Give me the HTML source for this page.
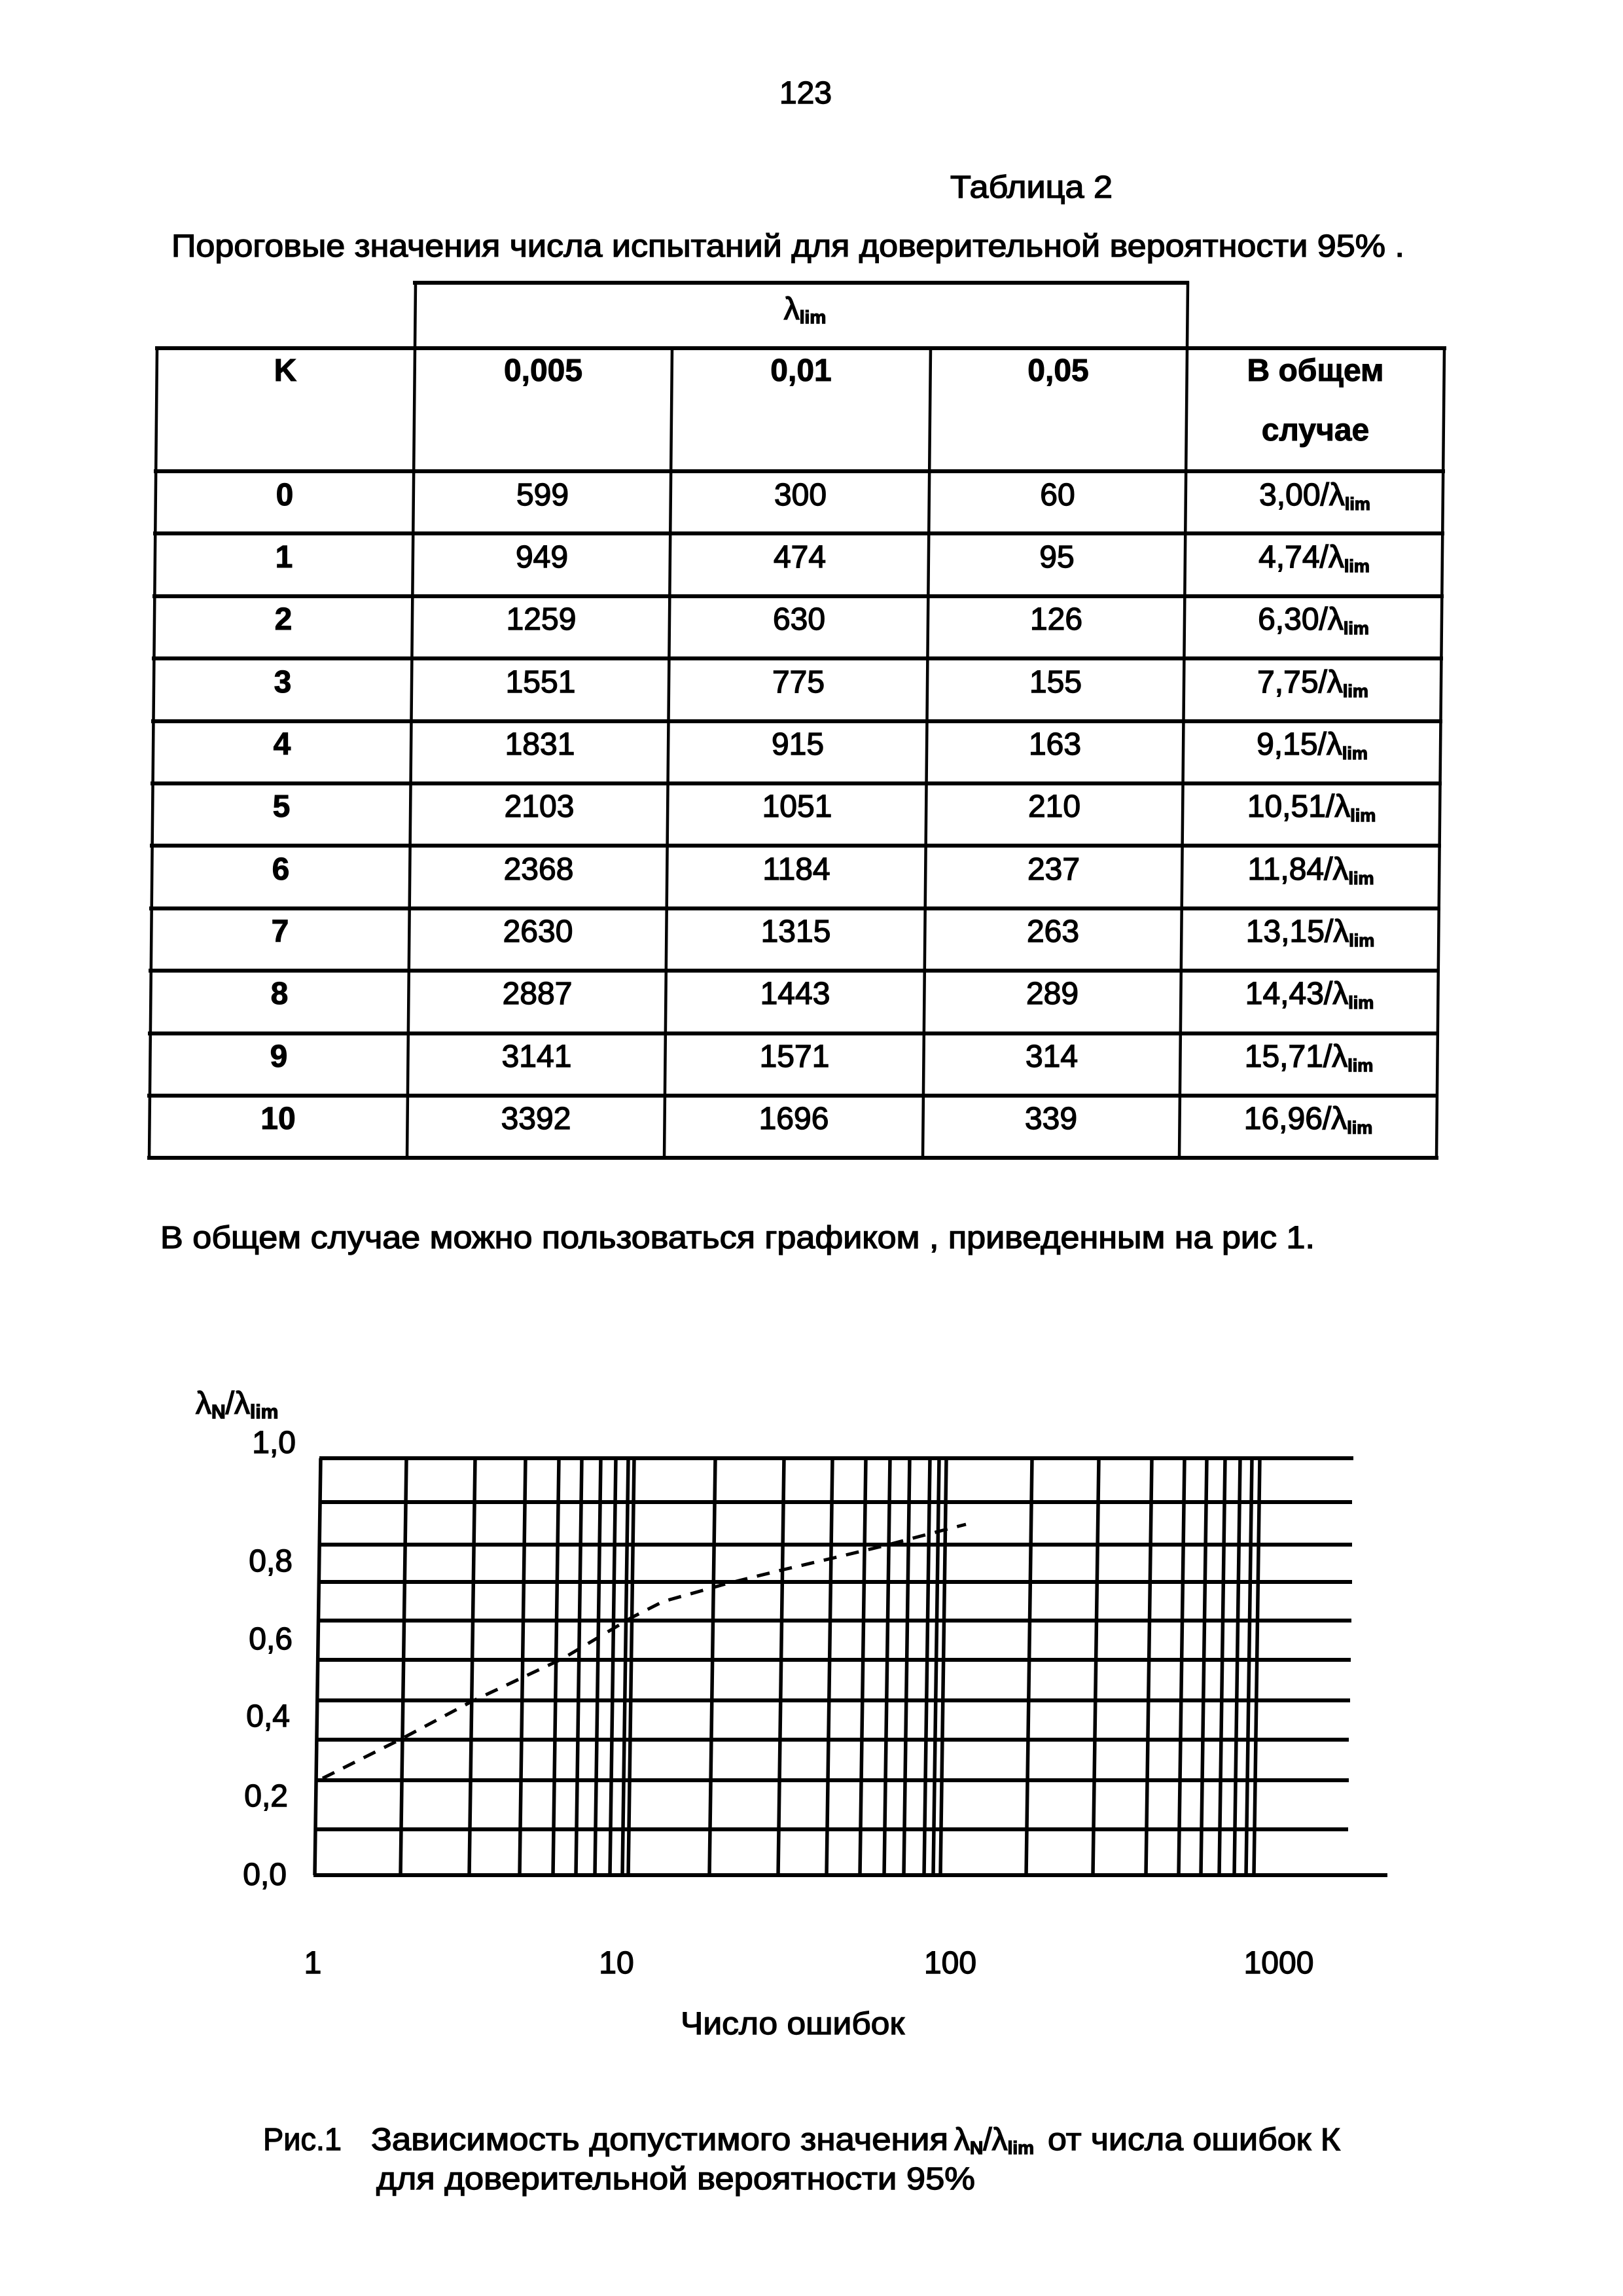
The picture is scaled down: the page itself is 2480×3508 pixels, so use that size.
<!DOCTYPE html>
<html>
<head>
<meta charset="utf-8">
<style>
html,body{margin:0;padding:0;background:#fff;}
svg{display:block;}
text{font-family:"Liberation Sans", Arial, sans-serif; fill:#000;}
.r{font-size:48px; stroke:#000; stroke-width:1.4;}
.b{font-size:48px; font-weight:bold; stroke:#000; stroke-width:1;}
.c{text-anchor:middle;}
.e{text-anchor:end;}
</style>
</head>
<body>
<svg width="2480" height="3508" viewBox="0 0 2480 3508" xmlns="http://www.w3.org/2000/svg">
<rect x="0" y="0" width="2480" height="3508" fill="#fff"/>

<!-- Page header -->
<text class="r c" x="1231" y="158">123</text>
<text class="r" x="1452" y="302" textLength="248" lengthAdjust="spacingAndGlyphs">Таблица 2</text>
<text class="r" x="262" y="392" textLength="1884" lengthAdjust="spacingAndGlyphs">Пороговые значения числа испытаний  для доверительной вероятности 95% .</text>

<!-- Table lines -->
<g stroke="#000" fill="none" stroke-linecap="square">
  <!-- lambda box -->
  <line x1="634" y1="432" x2="1814" y2="432" stroke-width="6"/>
  <line x1="635" y1="432" x2="634" y2="532" stroke-width="4.5"/>
  <line x1="1815" y1="432" x2="1814" y2="532" stroke-width="4.5"/>
  <!-- horizontals -->
  <line x1="240" y1="532" x2="2207" y2="532" stroke-width="6"/>
  <line x1="238" y1="720" x2="2205" y2="720" stroke-width="6"/>
  <line x1="237" y1="815" x2="2204" y2="815" stroke-width="6"/>
  <line x1="236" y1="911" x2="2203" y2="911" stroke-width="6"/>
  <line x1="235" y1="1006" x2="2202" y2="1006" stroke-width="6"/>
  <line x1="234" y1="1102" x2="2201" y2="1102" stroke-width="6"/>
  <line x1="233" y1="1197" x2="2200" y2="1197" stroke-width="6"/>
  <line x1="232" y1="1292" x2="2199" y2="1292" stroke-width="6"/>
  <line x1="231" y1="1388" x2="2198" y2="1388" stroke-width="6"/>
  <line x1="230" y1="1483" x2="2197" y2="1483" stroke-width="6"/>
  <line x1="229" y1="1579" x2="2196" y2="1579" stroke-width="6"/>
  <line x1="228" y1="1674" x2="2195" y2="1674" stroke-width="6"/>
  <line x1="228" y1="1769" x2="2195" y2="1769" stroke-width="6"/>
  <!-- verticals -->
  <line x1="240" y1="532" x2="228" y2="1769" stroke-width="4.5"/>
  <line x1="634" y1="532" x2="622" y2="1769" stroke-width="4.5"/>
  <line x1="1027" y1="532" x2="1015" y2="1769" stroke-width="4.5"/>
  <line x1="1422" y1="532" x2="1410" y2="1769" stroke-width="4.5"/>
  <line x1="1814" y1="532" x2="1802" y2="1769" stroke-width="4.5"/>
  <line x1="2207" y1="532" x2="2195" y2="1769" stroke-width="4.5"/>
</g>

<!-- Table header -->
<text class="r c" x="1230" y="488">λ<tspan font-size="28" font-weight="bold" dy="6">lim</tspan></text>
<text class="b c" x="436" y="582">K</text>
<text class="b c" x="830" y="582">0,005</text>
<text class="b c" x="1224" y="582">0,01</text>
<text class="b c" x="1617" y="582">0,05</text>
<text class="b c" x="2010" y="582">В общем</text>
<text class="b c" x="2010" y="673">случае</text>

<!-- Table rows -->
<g>
<text class="b c" x="435" y="772">0</text>
<text class="r c" x="829" y="772">599</text>
<text class="r c" x="1223" y="772">300</text>
<text class="r c" x="1616" y="772">60</text>
<text class="r c" x="2009" y="772">3,00/λ<tspan font-size="27" font-weight="bold" dy="7">lim</tspan></text>

<text class="b c" x="434" y="867">1</text>
<text class="r c" x="828" y="867">949</text>
<text class="r c" x="1222" y="867">474</text>
<text class="r c" x="1615" y="867">95</text>
<text class="r c" x="2008" y="867">4,74/λ<tspan font-size="27" font-weight="bold" dy="7">lim</tspan></text>

<text class="b c" x="433" y="962">2</text>
<text class="r c" x="827" y="962">1259</text>
<text class="r c" x="1221" y="962">630</text>
<text class="r c" x="1614" y="962">126</text>
<text class="r c" x="2007" y="962">6,30/λ<tspan font-size="27" font-weight="bold" dy="7">lim</tspan></text>

<text class="b c" x="432" y="1058">3</text>
<text class="r c" x="826" y="1058">1551</text>
<text class="r c" x="1220" y="1058">775</text>
<text class="r c" x="1613" y="1058">155</text>
<text class="r c" x="2006" y="1058">7,75/λ<tspan font-size="27" font-weight="bold" dy="7">lim</tspan></text>

<text class="b c" x="431" y="1153">4</text>
<text class="r c" x="825" y="1153">1831</text>
<text class="r c" x="1219" y="1153">915</text>
<text class="r c" x="1612" y="1153">163</text>
<text class="r c" x="2005" y="1153">9,15/λ<tspan font-size="27" font-weight="bold" dy="7">lim</tspan></text>

<text class="b c" x="430" y="1248">5</text>
<text class="r c" x="824" y="1248">2103</text>
<text class="r c" x="1218" y="1248">1051</text>
<text class="r c" x="1611" y="1248">210</text>
<text class="r c" x="2004" y="1248">10,51/λ<tspan font-size="27" font-weight="bold" dy="7">lim</tspan></text>

<text class="b c" x="429" y="1344">6</text>
<text class="r c" x="823" y="1344">2368</text>
<text class="r c" x="1217" y="1344">1184</text>
<text class="r c" x="1610" y="1344">237</text>
<text class="r c" x="2003" y="1344">11,84/λ<tspan font-size="27" font-weight="bold" dy="7">lim</tspan></text>

<text class="b c" x="428" y="1439">7</text>
<text class="r c" x="822" y="1439">2630</text>
<text class="r c" x="1216" y="1439">1315</text>
<text class="r c" x="1609" y="1439">263</text>
<text class="r c" x="2002" y="1439">13,15/λ<tspan font-size="27" font-weight="bold" dy="7">lim</tspan></text>

<text class="b c" x="427" y="1534">8</text>
<text class="r c" x="821" y="1534">2887</text>
<text class="r c" x="1215" y="1534">1443</text>
<text class="r c" x="1608" y="1534">289</text>
<text class="r c" x="2001" y="1534">14,43/λ<tspan font-size="27" font-weight="bold" dy="7">lim</tspan></text>

<text class="b c" x="426" y="1630">9</text>
<text class="r c" x="820" y="1630">3141</text>
<text class="r c" x="1214" y="1630">1571</text>
<text class="r c" x="1607" y="1630">314</text>
<text class="r c" x="2000" y="1630">15,71/λ<tspan font-size="27" font-weight="bold" dy="7">lim</tspan></text>

<text class="b c" x="425" y="1725">10</text>
<text class="r c" x="819" y="1725">3392</text>
<text class="r c" x="1213" y="1725">1696</text>
<text class="r c" x="1606" y="1725">339</text>
<text class="r c" x="1999" y="1725">16,96/λ<tspan font-size="27" font-weight="bold" dy="7">lim</tspan></text>
</g>

<!-- Paragraph -->
<text class="r" x="245" y="1907" textLength="1764" lengthAdjust="spacingAndGlyphs">В общем случае можно пользоваться  графиком , приведенным на рис 1.</text>

<!-- Chart -->
<text class="r" x="299" y="2160">λ<tspan font-size="30" font-weight="bold" dy="7">N</tspan><tspan dy="-7">/λ</tspan><tspan font-size="30" font-weight="bold" dy="7">lim</tspan></text>

<text class="r e" x="452" y="2220">1,0</text>
<text class="r e" x="447" y="2401">0,8</text>
<text class="r e" x="447" y="2520">0,6</text>
<text class="r e" x="443" y="2638">0,4</text>
<text class="r e" x="440" y="2760">0,2</text>
<text class="r e" x="438" y="2880">0,0</text>

<g stroke="#000" stroke-width="6" fill="none">
  <!-- horizontal grid lines -->
  <line x1="488" y1="2228" x2="2068" y2="2228"/>
  <line x1="487" y1="2295" x2="2066" y2="2295"/>
  <line x1="486" y1="2360" x2="2066" y2="2360"/>
  <line x1="485" y1="2417" x2="2066" y2="2417"/>
  <line x1="485" y1="2476" x2="2065" y2="2476"/>
  <line x1="484" y1="2536" x2="2064" y2="2536"/>
  <line x1="483" y1="2598" x2="2063" y2="2598"/>
  <line x1="482" y1="2658" x2="2061" y2="2658"/>
  <line x1="481" y1="2720" x2="2061" y2="2720"/>
  <line x1="480" y1="2795" x2="2060" y2="2795"/>
  <line x1="479" y1="2865" x2="2120" y2="2865"/>
</g>
<g stroke="#000" stroke-width="5.5" fill="none">
  <!-- vertical grid lines (slightly sheared like the scan) -->
  <line x1="490" y1="2228" x2="481" y2="2865"/>
  <line x1="621" y1="2228" x2="612" y2="2865"/>
  <line x1="726" y1="2228" x2="717" y2="2865"/>
  <line x1="803" y1="2228" x2="794" y2="2865"/>
  <line x1="854" y1="2228" x2="845" y2="2865"/>
  <line x1="889" y1="2228" x2="880" y2="2865"/>
  <line x1="918" y1="2228" x2="909" y2="2865"/>
  <line x1="941" y1="2228" x2="932" y2="2865"/>
  <line x1="960" y1="2228" x2="951" y2="2865"/>
  <line x1="969" y1="2228" x2="960" y2="2865"/>
  <line x1="1093" y1="2228" x2="1084" y2="2865"/>
  <line x1="1198" y1="2228" x2="1189" y2="2865"/>
  <line x1="1272" y1="2228" x2="1263" y2="2865"/>
  <line x1="1323" y1="2228" x2="1314" y2="2865"/>
  <line x1="1360" y1="2228" x2="1351" y2="2865"/>
  <line x1="1390" y1="2228" x2="1381" y2="2865"/>
  <line x1="1421" y1="2228" x2="1412" y2="2865"/>
  <line x1="1435" y1="2228" x2="1426" y2="2865"/>
  <line x1="1446" y1="2228" x2="1437" y2="2865"/>
  <line x1="1577" y1="2228" x2="1568" y2="2865"/>
  <line x1="1679" y1="2228" x2="1670" y2="2865"/>
  <line x1="1760" y1="2228" x2="1751" y2="2865"/>
  <line x1="1810" y1="2228" x2="1801" y2="2865"/>
  <line x1="1844" y1="2228" x2="1835" y2="2865"/>
  <line x1="1872" y1="2228" x2="1863" y2="2865"/>
  <line x1="1895" y1="2228" x2="1886" y2="2865"/>
  <line x1="1913" y1="2228" x2="1904" y2="2865"/>
  <line x1="1925" y1="2228" x2="1916" y2="2865"/>
</g>

<!-- dashed curve -->
<polyline points="493,2717 613,2657 720,2600 860,2534 966,2471 1013,2447 1109,2420 1198,2398 1275,2380 1346,2363 1441,2338 1476,2329"
  fill="none" stroke="#000" stroke-width="5" stroke-dasharray="20 15"/>

<!-- x tick labels -->
<text class="r c" x="478" y="3015">1</text>
<text class="r c" x="942" y="3015">10</text>
<text class="r c" x="1452" y="3015">100</text>
<text class="r c" x="1954" y="3015">1000</text>

<text class="r" x="1040" y="3108" textLength="342" lengthAdjust="spacingAndGlyphs">Число ошибок</text>

<!-- Caption -->
<text class="r" x="402" y="3285" textLength="120" lengthAdjust="spacingAndGlyphs">Рис.1</text>
<text class="r" x="567" y="3285" textLength="882" lengthAdjust="spacingAndGlyphs">Зависимость допустимого значения</text>
<text class="r" x="1458" y="3285">λ<tspan font-size="28" font-weight="bold" dy="6">N</tspan><tspan dy="-6">/λ</tspan><tspan font-size="28" font-weight="bold" dy="6">lim</tspan></text>
<text class="r" x="1601" y="3285" textLength="447" lengthAdjust="spacingAndGlyphs">от числа ошибок К</text>
<text class="r" x="575" y="3345" textLength="915" lengthAdjust="spacingAndGlyphs">для доверительной вероятности 95%</text>
</svg>
</body>
</html>
